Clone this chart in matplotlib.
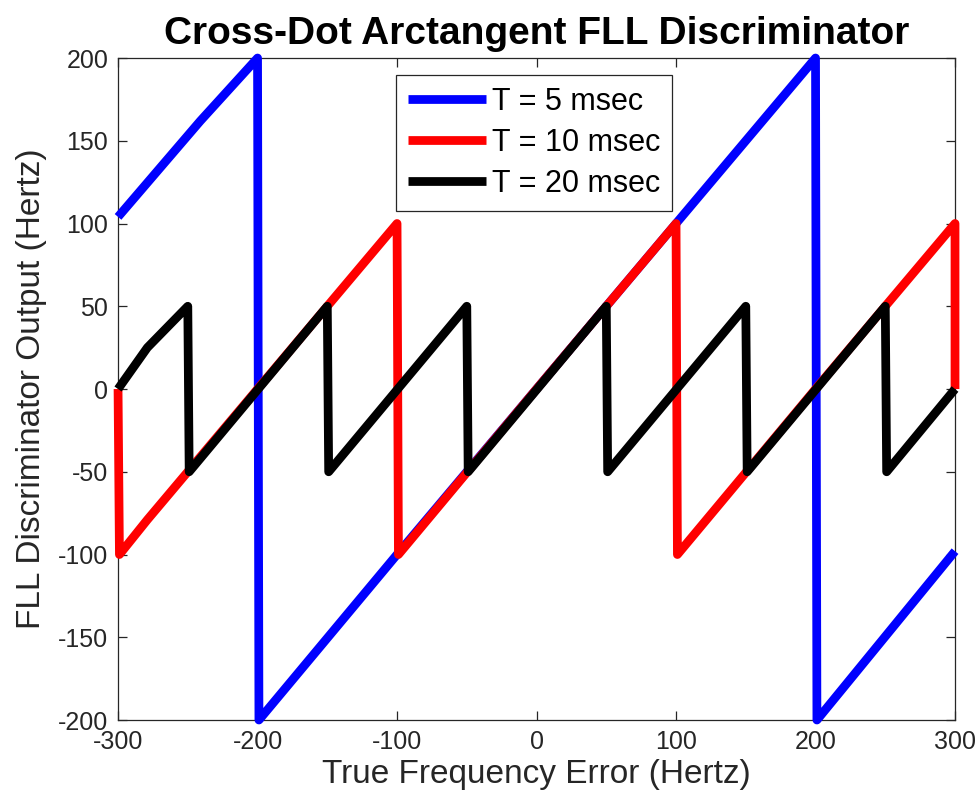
import matplotlib
matplotlib.use("Agg")
import matplotlib.pyplot as plt

# ---- data ----
freq_T5 = [-300, -241, -200, -199, -100, 0, 100, 200, 201, 300]
disc_T5 = [104, 162, 200, -200, -100, 0, 100, 200, -200, -98]

freq_T10 = [-300, -299, -279, -200, -100, -99, 0, 100, 101, 200, 300, 300]
disc_T10 = [0, -100, -79, 0, 100, -100, 0, 100, -100, 0, 100, 0]

freq_T20 = [-300, -279, -250, -249, -150, -149, -50, -49, 50, 51, 150, 151, 250, 251, 300]
disc_T20 = [0, 25, 50, -50, 50, -50, 50, -50, 50, -50, 50, -50, 50, -50, 0]

labels = ["T = 5 msec", "T = 10 msec", "T = 20 msec"]
colors = ["#0000ff", "#ff0000", "#000000"]
xticks = [-300, -200, -100, 0, 100, 200, 300]
yticks = [-200, -150, -100, -50, 0, 50, 100, 150, 200]

title = "Cross-Dot Arctangent FLL Discriminator"
xlabel = "True Frequency Error (Hertz)"
ylabel = "FLL Discriminator Output (Hertz)"

plt.rcParams['font.family'] = ['Liberation Sans', 'DejaVu Sans']
plt.rcParams['axes.unicode_minus'] = False
axcol = "#262626"

fig = plt.figure(figsize=(9.78, 8.07), dpi=100)
ax = fig.add_axes([0.1207, 0.1078, 0.8558, 0.8203])

series = [(freq_T5, disc_T5), (freq_T10, disc_T10), (freq_T20, disc_T20)]
for (fx, fy), lab, c in zip(series, labels, colors):
    ax.plot(fx, fy, color=c, lw=6.3, label=lab, clip_on=False,
            solid_joinstyle='round', solid_capstyle='butt')

ax.set_xlim(-300, 300)
ax.set_ylim(-200, 200)
ax.set_xticks(xticks)
ax.set_yticks(yticks)
ax.tick_params(direction='in', length=6.5, width=0.9, colors=axcol,
               labelsize=18, top=True, right=True, pad=7)
for sp in ax.spines.values():
    sp.set_color(axcol)
    sp.set_linewidth(0.9)
    sp.set_zorder(0.5)

ax.set_title(title, fontsize=28, fontweight='bold', pad=10, color='black')
ax.set_xlabel(xlabel, fontsize=24, color=axcol, labelpad=4)
ax.set_ylabel(ylabel, fontsize=24, color=axcol, labelpad=8)

leg = ax.legend(loc='upper center', bbox_to_anchor=(0.497, 1.0), fontsize=22,
                fancybox=False, edgecolor=axcol, framealpha=1,
                handlelength=2.55, handletextpad=0.2, labelspacing=0.36,
                borderpad=0.4, borderaxespad=0.55)
leg.get_frame().set_linewidth(0.9)

fig.savefig("out.png", dpi=100)
